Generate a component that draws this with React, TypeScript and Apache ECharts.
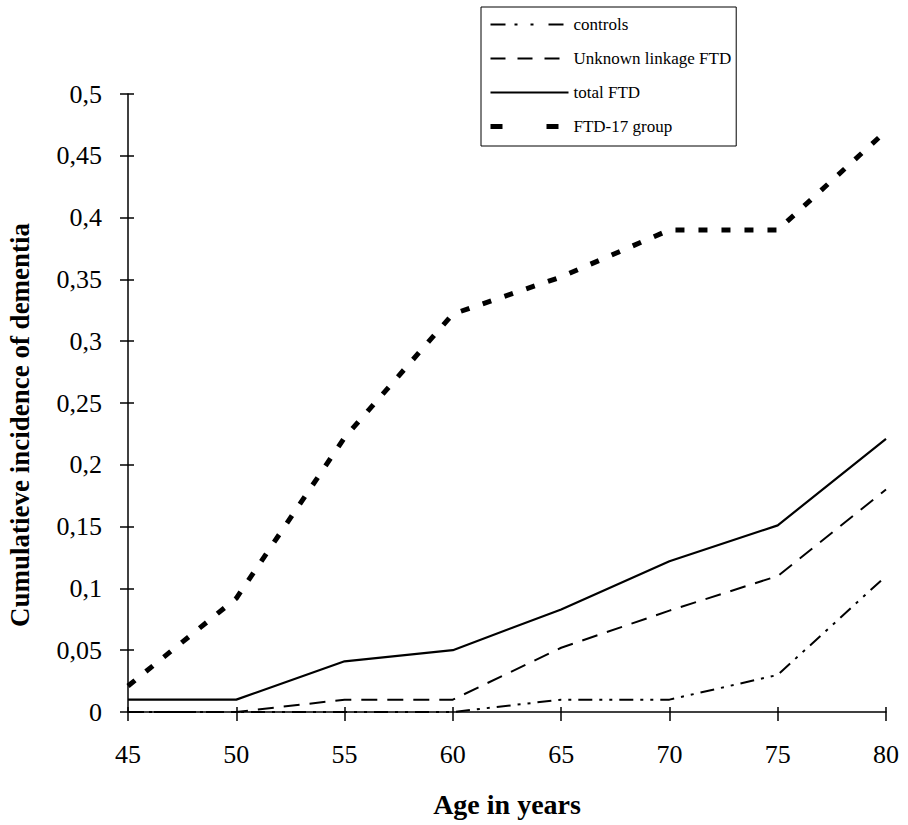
import React, { useEffect, useRef } from "react";
import * as echarts from "echarts";

const ages = [45, 50, 55, 60, 65, 70, 75, 80];
const controls = [0, 0, 0, 0, 0.01, 0.01, 0.03, 0.11];
const unknownLinkage = [0, 0, 0.01, 0.01, 0.052, 0.082, 0.11, 0.18];
const totalFTD = [0.01, 0.01, 0.041, 0.05, 0.083, 0.122, 0.151, 0.221];
const ftd17 = [0.021, 0.092, 0.222, 0.322, 0.352, 0.39, 0.39, 0.47];
const seriesNames = ["controls", "Unknown linkage FTD", "total FTD", "FTD-17 group"];
const xTitle = "Age in years";
const yTitle = "Cumulatieve incidence of dementia";

const FONT = "'Liberation Serif', 'Times New Roman', serif";

function pairs(vals: number[]) {
  return ages.map((a, i) => [a, vals[i]]);
}

export default function App() {
  const ref = useRef<HTMLDivElement>(null);
  useEffect(() => {
    if (!ref.current) return;
    const chart = echarts.init(ref.current, undefined, { renderer: "svg" });
    const fmt = (v: number) => String(Number(v.toFixed(2))).replace(".", ",");
    chart.setOption({
      animation: false,
      backgroundColor: "#fff",
      grid: { left: 128, right: 22, top: 94, bottom: 113, containLabel: false },
      legend: {
        orient: "vertical",
        left: 481,
        top: 7,
        padding: [9, 5, 11, 7],
        itemWidth: 78,
        itemHeight: 12,
        itemGap: 17,
        borderColor: "#000",
        borderWidth: 1,
        borderRadius: 0,
        itemStyle: { color: "rgba(0,0,0,0)", borderWidth: 0, opacity: 0 },
        textStyle: { fontFamily: FONT, fontSize: 17, color: "#000" },
        data: [
          { name: seriesNames[0], lineStyle: { width: 2, type: [15, 9, 3, 13, 3, 15] } },
          { name: seriesNames[1], lineStyle: { width: 2, type: [15, 12] } },
          { name: seriesNames[2], lineStyle: { width: 2, type: "solid" } },
          { name: seriesNames[3], lineStyle: { width: 5, type: [12, 44] } },
        ],
      },
      xAxis: [
        {
          type: "value",
          min: 45,
          max: 80,
          interval: 5,
          name: xTitle,
          nameLocation: "middle",
          nameGap: 78,
          nameTextStyle: { fontFamily: FONT, fontSize: 28, fontWeight: "bold", color: "#000" },
          axisLine: { show: true, onZero: false, lineStyle: { color: "#000", width: 1.5 } },
          axisTick: { show: true, inside: false, length: 9, lineStyle: { color: "#000", width: 1.5 } },
          axisLabel: { fontFamily: FONT, fontSize: 26, color: "#000", margin: 29 },
          splitLine: { show: false },
        },
        {
          type: "value",
          min: 45,
          max: 80,
          interval: 5,
          position: "bottom",
          axisLine: { show: false, onZero: false },
          axisTick: { show: true, inside: true, length: 5, lineStyle: { color: "#000", width: 1.5 } },
          axisLabel: { show: false },
          splitLine: { show: false },
        },
      ],
      yAxis: [
        {
          type: "value",
          min: 0,
          max: 0.5,
          interval: 0.05,
          axisLine: { show: true, onZero: false, lineStyle: { color: "#000", width: 1.5 } },
          axisTick: { show: true, inside: false, length: 8, lineStyle: { color: "#000", width: 1.5 } },
          axisLabel: { fontFamily: FONT, fontSize: 26, color: "#000", margin: 26, formatter: fmt },
          splitLine: { show: false },
        },
        {
          type: "value",
          min: 0,
          max: 0.5,
          interval: 0.05,
          position: "left",
          axisLine: { show: false, onZero: false },
          axisTick: { show: true, inside: true, length: 6, lineStyle: { color: "#000", width: 1.5 } },
          axisLabel: { show: false },
          splitLine: { show: false },
        },
      ],
      graphic: [
        {
          type: "text",
          x: 20,
          y: 425,
          rotation: Math.PI / 2,
          style: {
            text: yTitle,
            font: `bold 27px ${FONT}`,
            fill: "#000",
            textAlign: "center",
            textVerticalAlign: "middle",
          },
        },
      ],
      series: [
        {
          name: seriesNames[0],
          type: "line",
          data: pairs(controls),
          symbol: "none",
          color: "#000",
          lineStyle: { color: "#000", width: 2, type: [14, 7, 3, 7, 3, 7] },
        },
        {
          name: seriesNames[1],
          type: "line",
          data: pairs(unknownLinkage),
          symbol: "none",
          color: "#000",
          lineStyle: { color: "#000", width: 2, type: [16, 10] },
        },
        {
          name: seriesNames[2],
          type: "line",
          data: pairs(totalFTD),
          symbol: "none",
          color: "#000",
          lineStyle: { color: "#000", width: 2.2, type: "solid" },
        },
        {
          name: seriesNames[3],
          type: "line",
          data: pairs(ftd17),
          symbol: "none",
          color: "#000",
          lineStyle: { color: "#000", width: 5, type: [9, 14] },
        },
      ],
    });
    return () => chart.dispose();
  }, []);
  return (
    <div
      ref={ref}
      style={{ position: "fixed", left: 0, top: 0, width: 908, height: 825, background: "#fff" }}
    />
  );
}
